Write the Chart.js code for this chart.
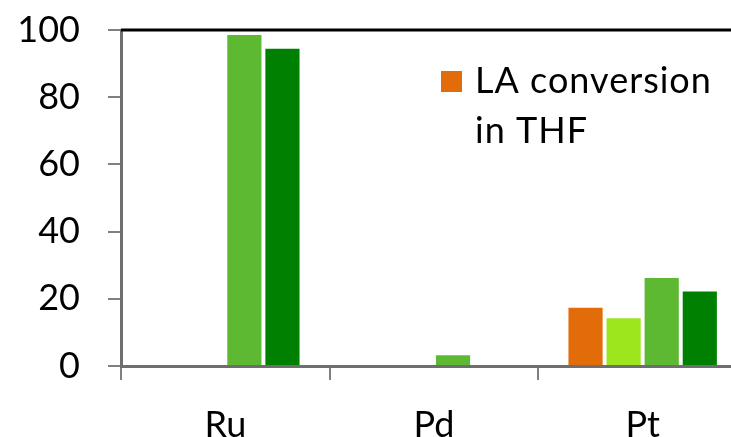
<!DOCTYPE html>
<html>
<head>
<meta charset="utf-8">
<script src="https://cdn.jsdelivr.net/npm/chart.js@4"></script>
<style>
  html, body { margin: 0; padding: 0; background: #fff; overflow: hidden; }
  #wrap { width: 731px; height: 437px; overflow: hidden; }
  #box { width: 760px; height: 437px; }
</style>
</head>
<body>
<div id="wrap"><div id="box"><canvas id="chart"></canvas></div></div>
<script>
// chart data
const categories = ['Ru', 'Pd', 'Pt'];
const laConversionTHF = [0, 0, 17.6];
const series2 = [0, 0, 14.5];
const series3 = [98.8, 3.5, 26.5];
const series4 = [94.7, 0, 22.5];
const yTicks = [0, 20, 40, 60, 80, 100];

const legendLines = ['LA conversion', 'in THF'];
const FONT = 'Lato, "Open Sans", sans-serif';

// legend inside the plot, only the first series is listed
const insideLegend = {
    id: 'insideLegend',
    afterDraw(chart) {
        const ctx = chart.ctx;
        const area = chart.chartArea;
        // top border of the plot
        ctx.save();
        ctx.strokeStyle = '#000';
        ctx.lineWidth = 3;
        ctx.beginPath();
        ctx.moveTo(area.left, area.top);
        ctx.lineTo(area.right, area.top);
        ctx.stroke();

        const ds = chart.data.datasets[0];
        ctx.fillStyle = ds.backgroundColor;
        ctx.fillRect(441, 71, 21, 21);
        ctx.fillStyle = '#000';
        ctx.font = '36px ' + FONT;
        ctx.letterSpacing = '1px';
        ctx.textBaseline = 'alphabetic';
        legendLines.forEach((line, i) => {
            ctx.fillText(line, 475, 93 + i * 50);
        });
        ctx.restore();
    }
};

new Chart(document.getElementById('chart'), {
    type: 'bar',
    data: {
        labels: categories,
        datasets: [
            { label: 'LA conversion in THF', data: laConversionTHF, backgroundColor: '#E36C0A' },
            { label: 'Series 2', data: series2, backgroundColor: '#9DE61E' },
            { label: 'Series 3', data: series3, backgroundColor: '#5DB932' },
            { label: 'Series 4', data: series4, backgroundColor: '#008000' }
        ].map(d => Object.assign(d, {
            borderColor: '#fff', borderWidth: 1,
            categoryPercentage: 0.73, barPercentage: 0.95
        }))
    },
    options: {
        responsive: true,
        maintainAspectRatio: false,
        animation: false,
        layout: { padding: { top: 30, right: 13, left: 0, bottom: 0 } },
        plugins: { legend: { display: false }, tooltip: { enabled: false } },
        scales: {
            x: {
                grid: { drawOnChartArea: false, offset: true, color: '#808080', lineWidth: 2, tickLength: 14 },
                border: { color: '#6e6e6e', width: 3 },
                ticks: { color: '#000', font: { family: FONT, size: 36 }, padding: 24 },
                afterFit(scale) { scale.height = 71; scale.paddingLeft = 0; scale.paddingRight = 0; }
            },
            y: {
                min: 0, max: 100,
                afterBuildTicks(scale) { scale.ticks = yTicks.map(v => ({ value: v })); },
                grid: { drawOnChartArea: false, color: '#808080', lineWidth: 2, tickLength: 13 },
                border: { color: '#6e6e6e', width: 3 },
                ticks: { color: '#000', font: { family: FONT, size: 36 }, padding: 28 },
                afterFit(scale) { scale.width = 121; scale.paddingTop = 0; scale.paddingBottom = 0; }
            }
        }
    },
    plugins: [insideLegend]
});
</script>
</body>
</html>
